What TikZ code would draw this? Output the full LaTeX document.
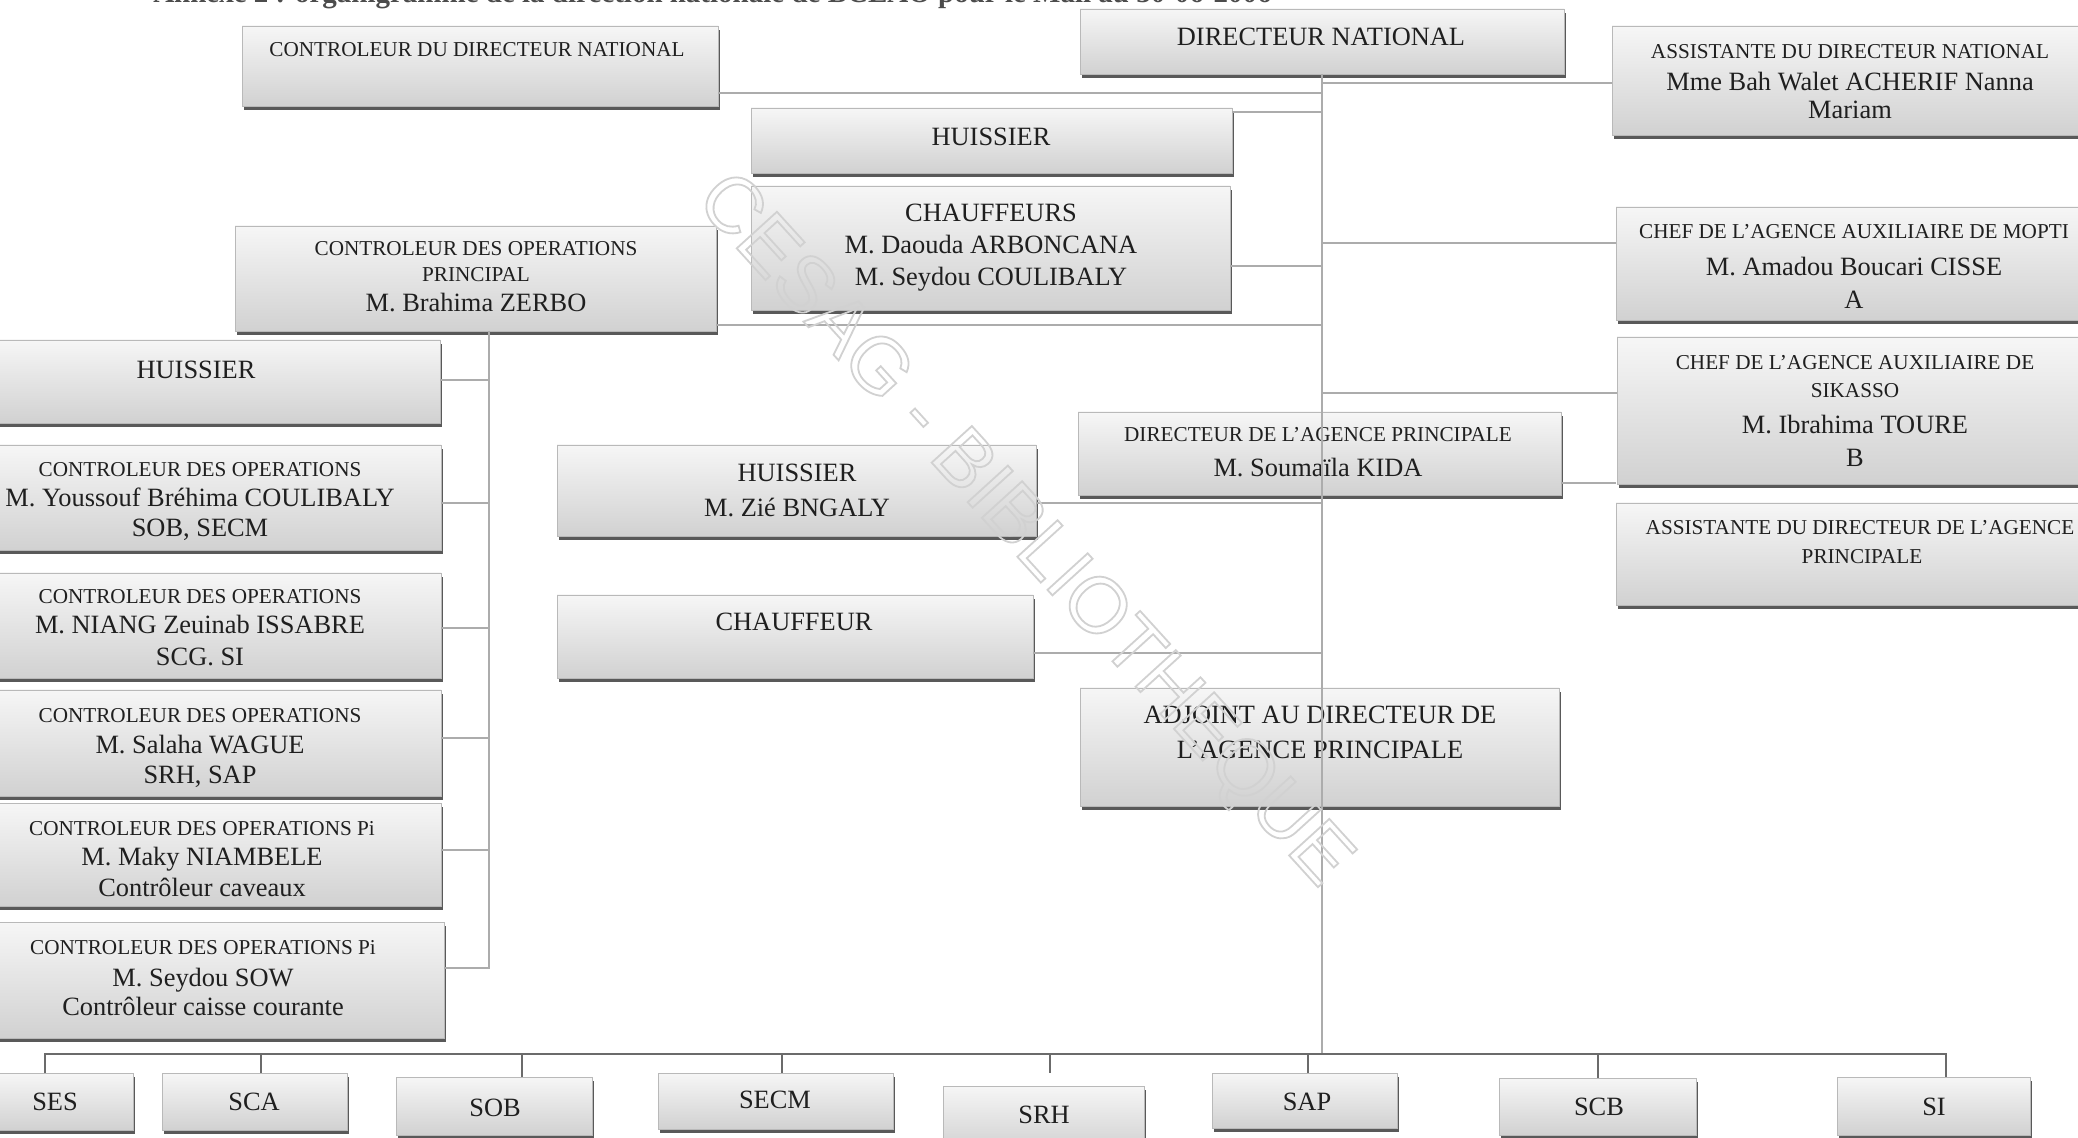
\documentclass[tikz,border=0pt]{standalone}
\usepackage{fontspec}
\setmainfont{Liberation Serif}
\newfontfamily\wmfont{Liberation Sans}
\usetikzlibrary{fit,shadows}

\tikzset{
  orgbox/.style={draw=gray!55, line width=0.3pt, top color=gray!7, bottom color=gray!36,
    inner sep=0pt, outer sep=0pt,
    drop shadow={shadow xshift=1pt, shadow yshift=-1.9pt, fill=black!65, opacity=1}},
  lg/.style={font=\fontsize{13.2pt}{15pt}\selectfont, inner sep=0pt, text height=8.7pt, text depth=0pt, text=black!88},
  sm/.style={font=\fontsize{10.6pt}{12pt}\selectfont, inner sep=0pt, text height=7pt, text depth=0pt, text=black!88},
  conn/.style={draw=gray!65, line width=0.6pt},
  busline/.style={draw=black!58, line width=0.9pt},
}
\newcommand\orgnode[5]{\node[orgbox, fit={(#2,#3) (#4,#5)}] (#1) {};}
% hollow letters: switch the PDF text rendering mode to stroke only
\newcommand\hollowtext[1]{\special{pdf:literal direct 1 Tr 0.9 w}#1\special{pdf:literal direct 0 Tr}}

\begin{document}
\begin{tikzpicture}[x=0.5pt, y=-0.5pt]
\useasboundingbox (0,0) rectangle (2078,1138);
\fill[white] (0,0) rectangle (2078,1138);

% heading line, mostly above the page edge
\node[anchor=base east, inner sep=0pt, text=black!70,
      font=\bfseries\fontsize{14.5pt}{16pt}\selectfont] (title) at (1272,3)
  {Annexe 2 : organigramme de la direction nationale de BCEAO pour le Mali au 30-06-2006};

% ---------- boxes ----------
\orgnode{cdn}{242}{26}{718}{106}
\orgnode{dn}{1080}{9}{1564}{74}
\orgnode{adn}{1612}{26}{2090}{135}
\orgnode{hua}{751}{108}{1232}{173}
\orgnode{chs}{751}{186}{1230}{310}
\orgnode{cop}{235}{226}{716}{331}
\orgnode{mop}{1616}{207}{2092}{320}
\orgnode{sik}{1617}{337}{2093}{484}
\orgnode{dap}{1078}{412}{1561}{495}
\orgnode{adap}{1616}{503}{2110}{605}
\orgnode{adj}{1080}{688}{1559}{806}
\orgnode{hub}{-49}{340}{440}{423}
\orgnode{cy}{-42}{445}{441}{550}
\orgnode{cn}{-42}{573}{441}{678}
\orgnode{cw}{-42}{690}{441}{796}
\orgnode{cm}{-42}{803}{441}{906}
\orgnode{cs}{-40}{922}{444}{1038}
\orgnode{hz}{557}{445}{1036}{536}
\orgnode{ch}{557}{595}{1033}{678}
\orgnode{ses}{-24}{1073}{133}{1130}
\orgnode{sca}{162}{1073}{347}{1130}
\orgnode{sob}{396}{1077}{592}{1135}
\orgnode{secm}{658}{1073}{893}{1129}
\orgnode{srh}{943}{1086}{1144}{1150}
\orgnode{sap}{1212}{1073}{1397}{1128}
\orgnode{scb}{1499}{1078}{1696}{1135}
\orgnode{si}{1837}{1077}{2030}{1135}

% ---------- texts ----------
\node[sm] (cdn-a) at (477,50) {CONTROLEUR DU DIRECTEUR NATIONAL};
\node[lg] (dn-a) at (1321,37) {DIRECTEUR NATIONAL};
\node[sm] (adn-a) at (1850,52) {ASSISTANTE DU DIRECTEUR NATIONAL};
\node[lg] (adn-b) at (1850,82) {Mme Bah Walet ACHERIF Nanna};
\node[lg] (adn-c) at (1850,110) {Mariam};
\node[lg] (hua-a) at (991,137) {HUISSIER};
\node[lg] (chs-a) at (991,213) {CHAUFFEURS};
\node[lg] (chs-b) at (991,245) {M. Daouda ARBONCANA};
\node[lg] (chs-c) at (991,277) {M. Seydou COULIBALY};
\node[sm] (cop-a) at (476,249) {CONTROLEUR DES OPERATIONS};
\node[sm] (cop-b) at (476,275) {PRINCIPAL};
\node[lg] (cop-c) at (476,303) {M. Brahima ZERBO};
\node[sm] (mop-a) at (1854,232) {CHEF DE L’AGENCE AUXILIAIRE DE MOPTI};
\node[lg] (mop-b) at (1854,267) {M. Amadou Boucari CISSE};
\node[lg] (mop-c) at (1854,300) {A};
\node[sm] (sik-a) at (1855,363) {CHEF DE L’AGENCE AUXILIAIRE DE};
\node[sm] (sik-b) at (1855,391) {SIKASSO};
\node[lg] (sik-c) at (1855,425) {M. Ibrahima TOURE};
\node[lg] (sik-d) at (1855,458) {B};
\node[sm] (dap-a) at (1318,435) {DIRECTEUR DE L’AGENCE PRINCIPALE};
\node[lg] (dap-b) at (1318,468) {M. Soumaïla KIDA};
\node[sm] (adap-a) at (1860,528) {ASSISTANTE DU DIRECTEUR DE L’AGENCE};
\node[sm] (adap-b) at (1862,557) {PRINCIPALE};
\node[lg] (adj-a) at (1320,715) {ADJOINT AU DIRECTEUR DE};
\node[lg] (adj-b) at (1320,750) {L’AGENCE PRINCIPALE};
\node[lg] (hub-a) at (196,370) {HUISSIER};
\node[sm] (cy-a) at (200,470) {CONTROLEUR DES OPERATIONS};
\node[lg] (cy-b) at (200,498) {M. Youssouf Bréhima COULIBALY};
\node[lg] (cy-c) at (200,528) {SOB, SECM};
\node[sm] (cn-a) at (200,597) {CONTROLEUR DES OPERATIONS};
\node[lg] (cn-b) at (200,625) {M. NIANG Zeuinab ISSABRE};
\node[lg] (cn-c) at (200,657) {SCG. SI};
\node[sm] (cw-a) at (200,715) {CONTROLEUR DES OPERATIONS};
\node[lg] (cw-b) at (200,745) {M. Salaha WAGUE};
\node[lg] (cw-c) at (200,775) {SRH, SAP};
\node[sm] (cm-a) at (202,828) {CONTROLEUR DES OPERATIONS Pi};
\node[lg] (cm-b) at (202,857) {M. Maky NIAMBELE};
\node[lg] (cm-c) at (202,888) {Contrôleur caveaux};
\node[sm] (cs-a) at (203,947) {CONTROLEUR DES OPERATIONS Pi};
\node[lg] (cs-b) at (203,978) {M. Seydou SOW};
\node[lg] (cs-c) at (203,1007) {Contrôleur caisse courante};
\node[lg] (hz-a) at (797,473) {HUISSIER};
\node[lg] (hz-b) at (797,508) {M. Zié BNGALY};
\node[lg] (ch-a) at (794,622) {CHAUFFEUR};
\node[lg] (ses-a) at (55,1102) {SES};
\node[lg] (sca-a) at (254,1102) {SCA};
\node[lg] (sob-a) at (495,1108) {SOB};
\node[lg] (secm-a) at (775,1100) {SECM};
\node[lg] (srh-a) at (1044,1115) {SRH};
\node[lg] (sap-a) at (1307,1102) {SAP};
\node[lg] (scb-a) at (1599,1107) {SCB};
\node[lg] (si-a) at (1934,1107) {SI};

% ---------- connectors ----------
\coordinate (busc) at (1321,1054);
\draw[conn] (dn.south) -- (dn.south |- busc);
\draw[conn] (cdn.east |- 0,93) -- (dn.south |- 0,93);
\draw[conn] (dn.south |- 0,83) -- (adn.west |- 0,83);
\draw[conn] (hua.east |- 0,112) -- (dn.south |- 0,112);
\draw[conn] (chs.east |- 0,266) -- (dn.south |- 0,266);
\draw[conn] (cop.east |- 0,325) -- (dn.south |- 0,325);
\draw[conn] (dn.south |- 0,243) -- (mop.west |- 0,243);
\draw[conn] (dn.south |- 0,393) -- (sik.west |- 0,393);
\draw[conn] (dap.east |- 0,483) -- (adap.west |- 0,483);
\draw[conn] (hz.east |- 0,503) -- (dn.south |- 0,503);
\draw[conn] (ch.east |- 0,653) -- (dn.south |- 0,653);

% operations controllers
\draw[conn] (489,0 |- cop.south) -- (489,968) -- (cs.east |- 0,968);
\draw[conn] (hub.east |- 0,380) -- (489,380);
\draw[conn] (cy.east |- 0,503) -- (489,503);
\draw[conn] (cn.east |- 0,628) -- (489,628);
\draw[conn] (cw.east |- 0,738) -- (489,738);
\draw[conn] (cm.east |- 0,850) -- (489,850);

% services
\draw[busline] (45,0 |- ses.north) -- (45,1054) -- (1946,1054) -- (1946,0 |- si.north);
\draw[busline] (261,1054) -- (261,0 |- sca.north);
\draw[busline] (522,1054) -- (522,0 |- sob.north);
\draw[busline] (782,1054) -- (782,0 |- secm.north);
\draw[busline, shorten >=6.5pt] (1050,1054) -- (1050,0 |- srh.north);
\draw[busline] (1308,1054) -- (1308,0 |- sap.north);
\draw[busline] (1598,1054) -- (1598,0 |- scb.north);

% library stamp, outlined letters
\node[rotate=-47.7, inner sep=0pt, text=gray!36, font=\wmfont\fontsize{39.5pt}{40pt}\selectfont]
  (stamp) at (1022,532) {\hollowtext{CESAG - BIBLIOTHEQUE}};
\end{tikzpicture}
\end{document}
